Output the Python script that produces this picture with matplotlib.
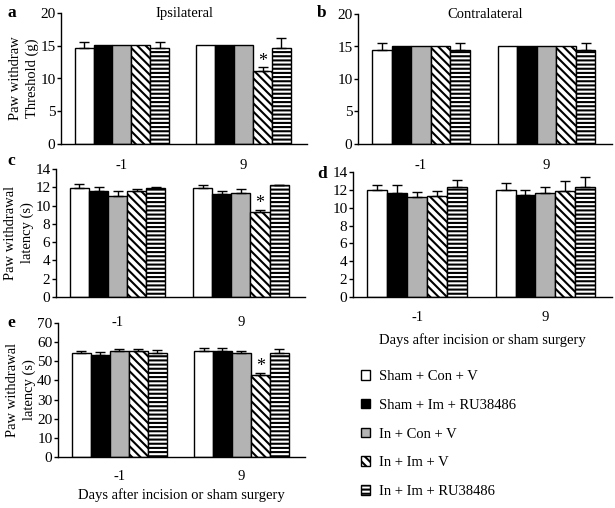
import matplotlib
matplotlib.use("Agg")
import matplotlib.pyplot as plt
import numpy as np
from matplotlib.patches import Patch

plt.rcParams['font.family'] = ['Liberation Serif', 'DejaVu Serif']
plt.rcParams['hatch.linewidth'] = 1.5

groups = ["-1", "9"]
labels = ["Sham + Con + V", "Sham + Im + RU38486", "In + Con + V",
          "In + Im + V", "In + Im + RU38486"]
colors = ["white", "black", "#b3b3b3", "white", "white"]
hatches = ["", "", "", "\\\\\\\\", "----"]

# values[group][treatment], errors the same
a_vals = [[14.7, 15.15, 15.15, 15.15, 14.7], [15.15, 15.15, 15.15, 11.2, 14.7]]
a_errs = [[0.8, 0, 0, 0, 0.8], [0, 0, 0, 0.55, 1.5]]
b_vals = [[14.5, 15.1, 15.1, 15.1, 14.5], [15.1, 15.1, 15.1, 15.1, 14.5]]
b_errs = [[1.0, 0, 0, 0, 1.0], [0, 0, 0, 0, 1.0]]
c_vals = [[11.9, 11.6, 11.05, 11.6, 11.9], [11.9, 11.3, 11.4, 9.25, 12.2]]
c_errs = [[0.45, 0.4, 0.55, 0.25, 0.1], [0.3, 0.3, 0.45, 0.3, 0.05]]
d_vals = [[12.0, 11.7, 11.2, 11.3, 12.3], [12.0, 11.45, 11.6, 11.9, 12.3]]
d_errs = [[0.6, 0.9, 0.6, 0.6, 0.8], [0.8, 0.55, 0.7, 1.1, 1.1]]
e_vals = [[54.3, 53.5, 55.4, 55.6, 54.3], [55.4, 55.4, 54.3, 42.8, 54.3]]
e_errs = [[1.3, 1.6, 1.2, 1.0, 1.6], [1.3, 1.3, 1.3, 1.3, 1.9]]

W, H = 615, 508
fig = plt.figure(figsize=(6.15, 5.08), dpi=100)


def make_ax(l, t, r, b):
    ax = fig.add_axes([l / W, 1 - b / H, (r - l) / W, (b - t) / H])
    ax.patch.set_visible(False)
    return ax


def draw(ax, vals, errs, ymax, step, star=False, xlab_pad=12):
    width = 0.155
    offs = (np.arange(5) - 2) * width
    for g in range(2):
        for i in range(5):
            x = g + offs[i]
            ax.bar(x, vals[g][i], width, color=colors[i], edgecolor="black",
                   hatch=hatches[i], linewidth=1.0, zorder=2)
            if errs[g][i] > 0:
                ax.errorbar(x, vals[g][i], yerr=[[0], [errs[g][i]]], fmt="none",
                            ecolor="black", elinewidth=1.0, capsize=3.5,
                            capthick=1.0, zorder=3)
    if star:
        ax.text(1 + offs[3], vals[1][3] + errs[1][3] - 0.02 * ymax, "*",
                ha="center", va="bottom", fontsize=13)
    ax.set_xlim(-0.5, 1.52)
    ax.set_ylim(0, ymax)
    ax.set_yticks(np.arange(0, ymax + 0.01, step))
    ax.set_xticks([0, 1])
    ax.set_xticklabels(groups, fontsize=10.5)
    ax.tick_params(axis="x", length=0, pad=xlab_pad)
    ax.tick_params(axis="y", labelsize=11, length=3, width=1, pad=1)
    ax.spines["top"].set_visible(False)
    ax.spines["right"].set_visible(False)
    ax.spines["left"].set_linewidth(1)
    ax.spines["bottom"].set_linewidth(1)


ax_a = make_ax(61, 13, 307, 144)
draw(ax_a, a_vals, a_errs, 20, 5, star=True, xlab_pad=11)
ax_a.set_ylabel("Paw withdraw\nThreshold (g)", fontsize=10.5,
                linespacing=1.35, labelpad=1)
ax_a.text(0.5, 1.0, "Ipsilateral", transform=ax_a.transAxes, ha="center",
          va="center", fontsize=10.5)

ax_b = make_ax(358, 14, 612, 144)
draw(ax_b, b_vals, b_errs, 20, 5, xlab_pad=11)
ax_b.text(0.5, 1.0, "Contralateral", transform=ax_b.transAxes, ha="center",
          va="center", fontsize=10.5)

ax_c = make_ax(56, 169, 305, 297)
draw(ax_c, c_vals, c_errs, 14, 2, star=True, xlab_pad=14)
ax_c.set_ylabel("Paw withdrawal\nlatency (s)", fontsize=10.5,
                linespacing=1.35, labelpad=1)

ax_d = make_ax(353, 172, 612, 297)
draw(ax_d, d_vals, d_errs, 14, 2, xlab_pad=10)
ax_d.set_xlabel("Days after incision or sham surgery", fontsize=10.5,
                labelpad=7)

ax_e = make_ax(58, 323, 305, 457)
draw(ax_e, e_vals, e_errs, 70, 10, star=True, xlab_pad=9)
ax_e.set_ylabel("Paw withdrawal\nlatency (s)", fontsize=10.5,
                linespacing=1.35, labelpad=1)
ax_e.set_xlabel("Days after incision or sham surgery", fontsize=10.5,
                labelpad=4)

for letter, x, y in [("a", 7, 13), ("b", 317, 13), ("c", 7, 161),
                     ("d", 317, 174), ("e", 7, 323)]:
    fig.text(x / W, 1 - y / H, letter, fontsize=12.5, fontweight="bold",
             va="center", ha="left")

handles = [Patch(facecolor=colors[i], edgecolor="black", hatch=hatches[i],
                 linewidth=1.0) for i in range(5)]
fig.legend(handles, labels, loc="upper left",
           bbox_to_anchor=(361 / W, 1 - 370 / H), frameon=False,
           fontsize=10.5, handlelength=0.65, handleheight=0.65,
           handletextpad=0.6, labelspacing=1.08, borderaxespad=0,
           borderpad=0)

fig.savefig("out.png", dpi=100)
